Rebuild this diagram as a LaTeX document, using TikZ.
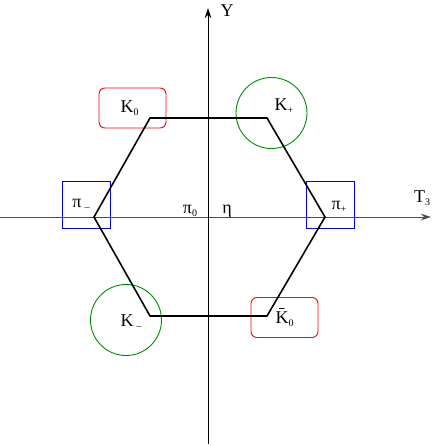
\documentclass[tikz,border=0pt]{standalone}
\usepackage{fontspec}
\setmainfont{Liberation Serif}
\usetikzlibrary{arrows.meta}
\newcommand{\sbs}[1]{\raisebox{-0.35ex}{\fontsize{10}{10}\selectfont #1}}
\begin{document}
\begin{tikzpicture}[x=1pt,y=-1pt,
  lbl/.style={font=\fontsize{18}{20}\selectfont, inner sep=0pt},
  rbox/.style={draw=red, line width=0.9pt, rounded corners=6pt, minimum width=67pt, minimum height=40pt, inner sep=0pt, font=\fontsize{18}{20}\selectfont},
  bbox/.style={draw=blue!85!black, line width=0.9pt, minimum width=48pt, minimum height=47pt, inner sep=0pt},
  gcirc/.style={draw=green!55!black, line width=0.9pt, circle, minimum size=71pt, inner sep=0pt},
  axis/.style={line width=1pt, -{Stealth[length=10pt,width=6.5pt]}},
  hexline/.style={line width=1.6pt, line join=miter}]
\useasboundingbox (0,0) rectangle (436,446);
% axes
\coordinate (xl) at (0,217);
\coordinate (xr) at (431,217);
\coordinate (yb) at (208,444);
\coordinate (yt) at (208,8);
\draw[axis, black!70] (xl) -- (xr);
\draw[axis] (yb) -- (yt);
% frames
\node[rbox] (bK0) at (132.5,108) {\hspace*{-6pt}K\sbs{0}};
\node[gcirc] (cKp) at (271.5,113) {};
\node[bbox] (bpm) at (86,204.5) {};
\node[bbox] (bpp) at (330,204.5) {};
\node[gcirc] (cKm) at (126,320) {};
\node[rbox] (bK0b) at (284.5,317.5) {\raisebox{-4pt}{K̄\sbs{0}}};
% hexagon
\coordinate (h1) at (150,118);
\coordinate (h2) at (267,118);
\coordinate (h3) at (325,217);
\coordinate (h4) at (267,316);
\coordinate (h5) at (150,316);
\coordinate (h6) at (94,217);
\draw[hexline] (h1) -- (h2) -- (h3) -- (h4) -- (h5) -- (h6) -- cycle;
% labels
\node[lbl] (tKp) at (284,106) {K\sbs{+}};
\node[lbl] (tpm) at (81,205) {π\,\sbs{–}};
\node[lbl] (tp0) at (190,211) {π\sbs{0}};
\node[lbl] (teta) at (227,211) {η};
\node[lbl] (tpp) at (339,207) {π\sbs{+}};
\node[lbl] (tT3) at (422,198) {T\sbs{3}};
\node[lbl] (tY) at (227,11) {Y};
\node[lbl] (tKm) at (131,322) {K\,\sbs{–}};
\end{tikzpicture}
\end{document}
